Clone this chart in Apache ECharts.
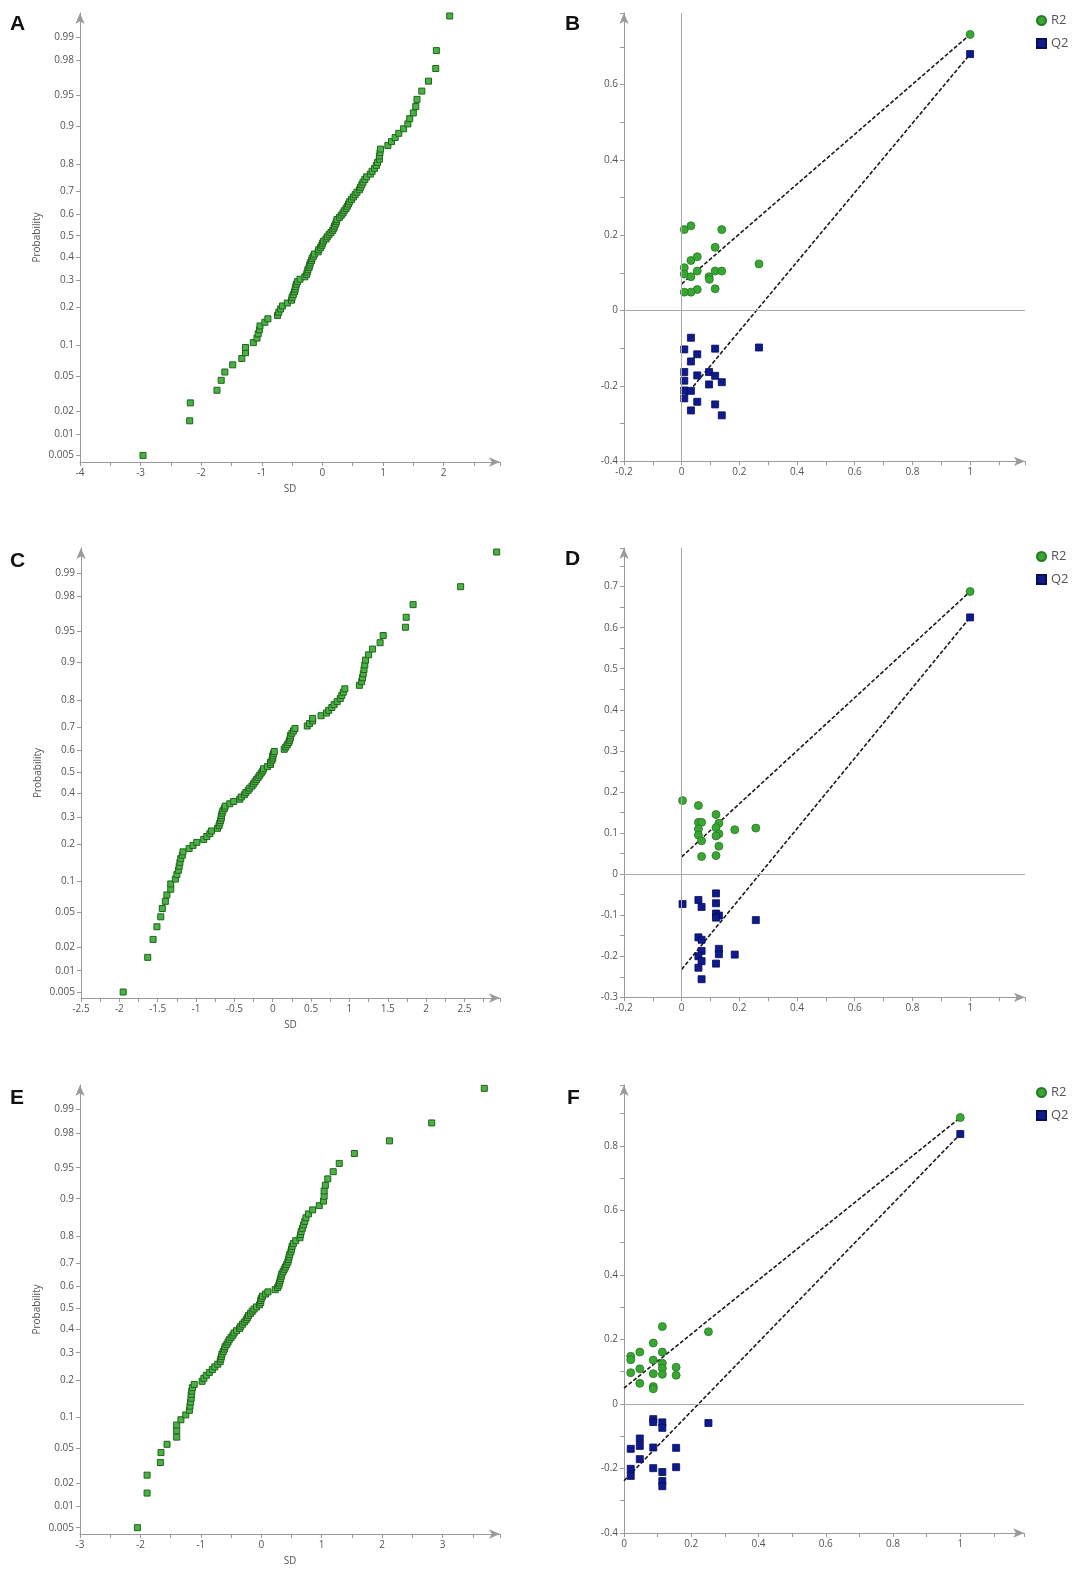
<!DOCTYPE html>
<html><head><meta charset="utf-8">
<script src="https://cdn.jsdelivr.net/npm/echarts@6/dist/echarts.min.js"></script>
<style>html,body{margin:0;padding:0;background:#fff}#c{width:1085px;height:1569px}</style>
</head><body><div id="c"></div>
<script>
// ---------- DATA ----------
const probTicks = [0.005,0.01,0.02,0.05,0.1,0.2,0.3,0.4,0.5,0.6,0.7,0.8,0.9,0.95,0.98,0.99];
const probPositions = [0.005,0.015,0.025,0.035,0.045,0.055,0.065,0.075,0.085,0.095,
0.105,0.115,0.125,0.135,0.145,0.155,0.165,0.175,0.185,0.195,
0.205,0.215,0.225,0.235,0.245,0.255,0.265,0.275,0.285,0.295,
0.305,0.315,0.325,0.335,0.345,0.355,0.365,0.375,0.385,0.395,
0.405,0.415,0.425,0.435,0.445,0.455,0.465,0.475,0.485,0.495,
0.505,0.515,0.525,0.535,0.545,0.555,0.565,0.575,0.585,0.595,
0.605,0.615,0.625,0.635,0.645,0.655,0.665,0.675,0.685,0.695,
0.705,0.715,0.725,0.735,0.745,0.755,0.765,0.775,0.785,0.795,
0.805,0.815,0.825,0.835,0.845,0.855,0.865,0.875,0.885,0.895,
0.905,0.915,0.925,0.935,0.945,0.955,0.965,0.975,0.985,0.995];

const sdA = [-2.96,-2.19,-2.18,-1.74,-1.67,-1.61,-1.48,-1.33,-1.27,-1.27,
-1.14,-1.08,-1.06,-1.04,-1.03,-0.95,-0.90,-0.74,-0.72,-0.69,
-0.66,-0.58,-0.51,-0.50,-0.48,-0.46,-0.45,-0.44,-0.43,-0.41,
-0.37,-0.29,-0.26,-0.25,-0.24,-0.22,-0.21,-0.20,-0.18,-0.17,
-0.15,-0.13,-0.07,-0.06,-0.03,-0.01,0.00,0.02,0.06,0.08,
0.11,0.14,0.17,0.19,0.20,0.22,0.23,0.24,0.28,0.31,
0.34,0.36,0.39,0.41,0.43,0.45,0.48,0.51,0.54,0.57,
0.61,0.63,0.65,0.67,0.70,0.73,0.79,0.82,0.86,0.89,
0.91,0.94,0.94,0.95,0.96,1.08,1.14,1.20,1.26,1.34,
1.41,1.44,1.50,1.54,1.56,1.64,1.75,1.87,1.88,2.10];

const sdC = [-1.95,-1.63,-1.56,-1.51,-1.46,-1.44,-1.40,-1.38,-1.33,-1.33,
-1.27,-1.25,-1.23,-1.22,-1.21,-1.20,-1.18,-1.17,-1.09,-1.04,
-0.99,-0.90,-0.86,-0.82,-0.80,-0.72,-0.70,-0.69,-0.68,-0.67,
-0.67,-0.66,-0.65,-0.63,-0.62,-0.56,-0.51,-0.43,-0.41,-0.37,
-0.35,-0.32,-0.30,-0.27,-0.25,-0.23,-0.21,-0.19,-0.17,-0.15,
-0.13,-0.12,-0.07,-0.03,-0.03,-0.01,0.00,0.00,0.01,0.02,
0.15,0.17,0.19,0.21,0.22,0.23,0.23,0.25,0.27,0.29,
0.45,0.48,0.52,0.52,0.63,0.70,0.73,0.77,0.80,0.84,
0.88,0.90,0.92,0.94,1.13,1.16,1.17,1.18,1.19,1.20,
1.21,1.25,1.30,1.40,1.44,1.73,1.74,1.83,2.45,2.92];

const sdE = [-2.05,-1.89,-1.89,-1.67,-1.66,-1.56,-1.40,-1.40,-1.40,-1.33,
-1.25,-1.19,-1.18,-1.17,-1.16,-1.16,-1.15,-1.14,-1.11,-0.98,
-0.95,-0.91,-0.86,-0.81,-0.77,-0.72,-0.68,-0.67,-0.66,-0.65,
-0.63,-0.61,-0.60,-0.57,-0.55,-0.53,-0.50,-0.47,-0.45,-0.41,
-0.36,-0.34,-0.31,-0.28,-0.25,-0.23,-0.21,-0.18,-0.15,-0.12,
-0.08,-0.03,-0.01,-0.01,0.00,0.02,0.07,0.11,0.23,0.27,
0.29,0.30,0.31,0.32,0.33,0.34,0.36,0.38,0.40,0.42,
0.44,0.45,0.46,0.47,0.49,0.50,0.51,0.53,0.57,0.64,
0.65,0.66,0.68,0.70,0.72,0.74,0.78,0.85,0.96,1.03,
1.04,1.04,1.06,1.10,1.19,1.29,1.54,2.12,2.82,3.69];

const bR2 = [[0.009,0.215],[0.032,0.225],[0.139,0.215],[0.116,0.168],[0.032,0.133],[0.054,0.143],
[0.009,0.114],[0.009,0.097],[0.032,0.090],[0.054,0.105],[0.095,0.090],[0.096,0.083],[0.116,0.105],
[0.139,0.105],[0.116,0.058],[0.054,0.056],[0.032,0.049],[0.009,0.049],[0.268,0.124],[1.0,0.733]];
const bQ2 = [[0.032,-0.072],[0.009,-0.103],[0.054,-0.116],[0.116,-0.101],[0.268,-0.098],[0.032,-0.135],
[0.009,-0.163],[0.009,-0.186],[0.054,-0.172],[0.095,-0.163],[0.116,-0.173],[0.095,-0.196],[0.139,-0.190],
[0.009,-0.212],[0.032,-0.213],[0.009,-0.233],[0.054,-0.242],[0.032,-0.265],[0.116,-0.249],[0.139,-0.278],[1.0,0.681]];
const bFitR2 = [[0,0.071],[1,0.733]];
const bFitQ2 = [[0,-0.238],[1,0.681]];

const dR2 = [[0.003,0.179],[0.058,0.167],[0.119,0.145],[0.058,0.126],[0.069,0.126],[0.129,0.124],
[0.058,0.110],[0.119,0.113],[0.184,0.108],[0.257,0.112],[0.058,0.095],[0.129,0.098],[0.119,0.093],
[0.069,0.081],[0.129,0.068],[0.069,0.043],[0.119,0.045],[1.0,0.688]];
const dQ2 = [[0.003,-0.073],[0.058,-0.063],[0.069,-0.080],[0.119,-0.047],[0.119,-0.071],[0.119,-0.096],
[0.129,-0.101],[0.119,-0.106],[0.257,-0.112],[0.058,-0.154],[0.069,-0.160],[0.069,-0.187],[0.129,-0.182],
[0.129,-0.195],[0.184,-0.196],[0.058,-0.200],[0.069,-0.212],[0.119,-0.218],[0.058,-0.228],[0.069,-0.256],[1.0,0.625]];
const dFitR2 = [[0,0.042],[1,0.688]];
const dFitQ2 = [[0,-0.232],[1,0.625]];

const fR2 = [[0.020,0.148],[0.020,0.137],[0.020,0.097],[0.047,0.161],[0.047,0.109],[0.047,0.064],
[0.087,0.189],[0.087,0.136],[0.087,0.094],[0.087,0.054],[0.087,0.047],[0.114,0.240],[0.114,0.161],
[0.114,0.126],[0.114,0.111],[0.114,0.092],[0.155,0.114],[0.155,0.089],[0.251,0.224],[1.0,0.888]];
const fQ2 = [[0.020,-0.139],[0.020,-0.201],[0.020,-0.223],[0.047,-0.107],[0.047,-0.130],[0.047,-0.171],
[0.087,-0.047],[0.087,-0.056],[0.087,-0.135],[0.087,-0.199],[0.114,-0.057],[0.114,-0.074],[0.114,-0.211],
[0.114,-0.239],[0.114,-0.255],[0.155,-0.136],[0.155,-0.196],[0.251,-0.059],[1.0,0.837]];
const fFitR2 = [[0,0.049],[1,0.888]];
const fFitQ2 = [[0,-0.238],[1,0.837]];

const panelLetters = ['A','B','C','D','E','F'];

// ---------- normal probability scale (probit) ----------
function probit(p){
  const a=[-3.969683028665376e+01,2.209460984245205e+02,-2.759285104469687e+02,1.383577518672690e+02,-3.066479806614716e+01,2.506628277459239e+00];
  const b=[-5.447609879822406e+01,1.615858368580409e+02,-1.556989798598866e+02,6.680131188771972e+01,-1.328068155288572e+01];
  const c=[-7.784894002430293e-03,-3.223964580411365e-01,-2.400758277161838e+00,-2.549732539343734e+00,4.374664141464968e+00,2.938163982698783e+00];
  const d=[7.784695709041462e-03,3.224671290700398e-01,2.445134137142996e+00,3.754408661907416e+00];
  const pl=0.02425, ph=1-pl; let q,r;
  if(p<pl){q=Math.sqrt(-2*Math.log(p));return (((((c[0]*q+c[1])*q+c[2])*q+c[3])*q+c[4])*q+c[5])/((((d[0]*q+d[1])*q+d[2])*q+d[3])*q+1);}
  if(p<=ph){q=p-0.5;r=q*q;return (((((a[0]*r+a[1])*r+a[2])*r+a[3])*r+a[4])*r+a[5])*q/(((((b[0]*r+b[1])*r+b[2])*r+b[3])*r+b[4])*r+1);}
  q=Math.sqrt(-2*Math.log(1-p));return -(((((c[0]*q+c[1])*q+c[2])*q+c[3])*q+c[4])*q+c[5])/((((d[0]*q+d[1])*q+d[2])*q+d[3])*q+1);
}
const tickZ = probTicks.map(probit);
function probLabel(v){
  for(let i=0;i<tickZ.length;i++){ if(Math.abs(tickZ[i]-v)<1e-6) return String(probTicks[i]); }
  return '';
}
const toProbData = sd => sd.map((x,i)=>[x, probit(probPositions[i])]);

// ---------- styles ----------
const FONT = '"Open Sans", "DejaVu Sans", sans-serif';
const axisGray = '#9a9a9a';
const labelStyle = {color:'#555', fontSize:10, fontFamily:FONT};
function baseAxis(extra){
  return Object.assign({
    type:'value',
    axisLine:{show:true, onZero:false, lineStyle:{color:axisGray, width:1}, symbol:['none','arrow'], symbolSize:[7,11]},
    axisTick:{show:true, length:4, lineStyle:{color:axisGray}},
    minorTick:{show:true, splitNumber:2, length:4, lineStyle:{color:axisGray}},
    splitLine:{show:false},
    axisLabel:Object.assign({margin:6, showMaxLabel:false}, labelStyle),
    nameTextStyle:{color:'#555', fontSize:10, fontFamily:FONT}
  }, extra);
}
function probYAxis(gi, min, max){
  return baseAxis({
    gridIndex:gi, min:min, max:max,
    name:'Probability', nameLocation:'middle', nameGap:38,
    minorTick:{show:false},
    axisTick:{show:true, length:4, lineStyle:{color:axisGray}, customValues:tickZ},
    axisLabel:Object.assign({margin:6, customValues:tickZ, formatter:probLabel}, labelStyle)
  });
}
const greenSq = {color:'#47b342', borderColor:'#24621f', borderWidth:1, opacity:1};
const r2Style = {color:'#37a832', borderColor:'#2a7526', borderWidth:0.8, opacity:1};
const q2Style = {color:'#0f1a8f', borderColor:'#060c55', borderWidth:0.8, opacity:1};
const fitLine = {color:'#1a1a1a', width:1.6, type:[4,2]};

function probSeries(gi, sd){
  return {type:'scatter', xAxisIndex:gi, yAxisIndex:gi, symbol:'rect', symbolSize:6,
    itemStyle:greenSq, data:toProbData(sd), silent:true, z:3};
}
function permSeries(gi, r2, q2, fr2, fq2, zeroLines){
  return [
    {type:'line', name:'R2 fit', xAxisIndex:gi, yAxisIndex:gi, data:fr2, symbol:'none', lineStyle:fitLine, silent:true, z:2},
    {type:'line', name:'Q2 fit', xAxisIndex:gi, yAxisIndex:gi, data:fq2, symbol:'none', lineStyle:fitLine, silent:true, z:2},
    {type:'scatter', name:'R2', xAxisIndex:gi, yAxisIndex:gi, symbol:'circle', symbolSize:8, itemStyle:r2Style, data:r2, z:3,
      markLine:{silent:true, symbol:'none', label:{show:false}, animation:false,
        lineStyle:{color:'#a8a8a8', type:'solid', width:1}, data:zeroLines}},
    {type:'scatter', name:'Q2', xAxisIndex:gi, yAxisIndex:gi, symbol:'rect', symbolSize:7, itemStyle:q2Style, data:q2, z:3}
  ];
}

const letterPos = [[10,14],[565,14],[10,551],[565,549],[10,1088],[567,1088]];
const legendTops = [9, 545, 1081];

const option = {
  animation:false,
  backgroundColor:'#fff',
  textStyle:{fontFamily:FONT},
  grid:[
    {left:80, top:13, width:420, height:449},
    {left:624, top:13, width:400.9, height:448.3},
    {left:81, top:548, width:419, height:450},
    {left:624, top:548, width:400.9, height:449.3},
    {left:80, top:1085, width:420, height:449},
    {left:624, top:1085, width:400.2, height:448}
  ],
  xAxis:[
    baseAxis({gridIndex:0, min:-4, max:2.93, interval:1, name:'SD', nameLocation:'middle', nameGap:22}),
    baseAxis({gridIndex:1, min:-0.2, max:1.19, interval:0.2}),
    baseAxis({gridIndex:2, min:-2.5, max:2.963, interval:0.5, name:'SD', nameLocation:'middle', nameGap:22}),
    baseAxis({gridIndex:3, min:-0.2, max:1.19, interval:0.2}),
    baseAxis({gridIndex:4, min:-3, max:3.95, interval:1, name:'SD', nameLocation:'middle', nameGap:22}),
    baseAxis({gridIndex:5, min:0, max:1.19, interval:0.2})
  ],
  yAxis:[
    probYAxis(0, -2.653, 2.611),
    baseAxis({gridIndex:1, min:-0.4, max:0.79, interval:0.2}),
    probYAxis(2, -2.646, 2.623),
    baseAxis({gridIndex:3, min:-0.3, max:0.794, interval:0.1}),
    probYAxis(4, -2.650, 2.615),
    baseAxis({gridIndex:5, min:-0.4, max:0.989, interval:0.2})
  ],
  legend: legendTops.map(t => ({
    data:['R2','Q2'], orient:'vertical', left:1031, top:t, itemWidth:9, itemHeight:9, itemGap:10,
    selectedMode:false, textStyle:{color:'#555', fontSize:13, fontFamily:FONT}
  })),
  graphic: panelLetters.map((L,i)=>({
    type:'text', left:letterPos[i][0], top:letterPos[i][1],
    style:{text:L, font:'bold 21px "Liberation Sans", Arial, sans-serif', fill:'#111'}
  })),
  series:[
    probSeries(0, sdA),
    ...permSeries(1, bR2, bQ2, bFitR2, bFitQ2, [{xAxis:0},{yAxis:0}]),
    probSeries(2, sdC),
    ...permSeries(3, dR2, dQ2, dFitR2, dFitQ2, [{xAxis:0},{yAxis:0}]),
    probSeries(4, sdE),
    ...permSeries(5, fR2, fQ2, fFitR2, fFitQ2, [{yAxis:0}])
  ]
};
const chart = echarts.init(document.getElementById('c'), null, {renderer:'canvas'});
chart.setOption(option);
</script></body></html>
